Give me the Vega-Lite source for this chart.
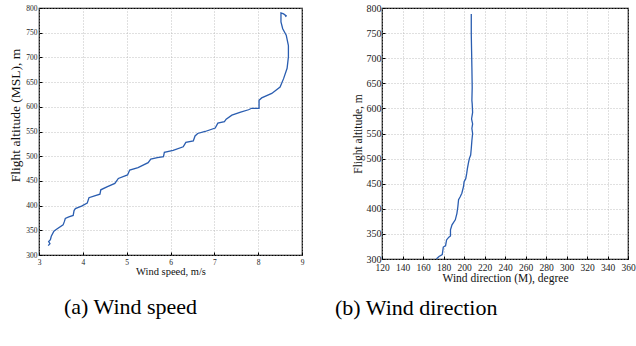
{
  "$schema": "https://vega.github.io/schema/vega-lite/v6.json",
  "background": "white",
  "padding": {"left": 8, "top": 2, "right": 1, "bottom": 0},
  "config": {
    "font": "Liberation Serif",
    "view": {"stroke": "#000", "strokeWidth": 1.2},
    "axis": {"domain": false, "grid": true, "gridDash": [1, 2], "gridColor": "#b0b0b0", "gridWidth": 0.8, "ticks": true, "tickSize": -3, "tickColor": "#000", "tickWidth": 1, "labelColor": "#222", "titleColor": "#111", "titleFontWeight": "normal", "labelFont": "Liberation Serif", "titleFont": "Liberation Serif", "labelOverlap": false, "labelFlush": false},
    "concat": {"spacing": 29}
  },
  "datasets": {
    "speed": [
      {"i": 1, "ws": 3.21, "alt": 319}, {"i": 2, "ws": 3.25, "alt": 323}, {"i": 3, "ws": 3.22, "alt": 327}, {"i": 4, "ws": 3.26, "alt": 331},
      {"i": 5, "ws": 3.28, "alt": 338}, {"i": 6, "ws": 3.34, "alt": 348}, {"i": 7, "ws": 3.40, "alt": 352}, {"i": 8, "ws": 3.55, "alt": 361},
      {"i": 9, "ws": 3.58, "alt": 368}, {"i": 10, "ws": 3.60, "alt": 374}, {"i": 11, "ws": 3.68, "alt": 377}, {"i": 12, "ws": 3.78, "alt": 380},
      {"i": 13, "ws": 3.80, "alt": 390}, {"i": 14, "ws": 3.83, "alt": 394}, {"i": 15, "ws": 3.97, "alt": 399}, {"i": 16, "ws": 4.10, "alt": 405},
      {"i": 17, "ws": 4.14, "alt": 416}, {"i": 18, "ws": 4.25, "alt": 419}, {"i": 19, "ws": 4.39, "alt": 423}, {"i": 20, "ws": 4.41, "alt": 432},
      {"i": 21, "ws": 4.55, "alt": 438}, {"i": 22, "ws": 4.73, "alt": 445}, {"i": 23, "ws": 4.81, "alt": 455}, {"i": 24, "ws": 5.02, "alt": 462},
      {"i": 25, "ws": 5.07, "alt": 472}, {"i": 26, "ws": 5.26, "alt": 477}, {"i": 27, "ws": 5.49, "alt": 487}, {"i": 28, "ws": 5.55, "alt": 494},
      {"i": 29, "ws": 5.70, "alt": 497}, {"i": 30, "ws": 5.84, "alt": 499}, {"i": 31, "ws": 5.86, "alt": 508}, {"i": 32, "ws": 6.06, "alt": 512},
      {"i": 33, "ws": 6.29, "alt": 519}, {"i": 34, "ws": 6.35, "alt": 528}, {"i": 35, "ws": 6.52, "alt": 531}, {"i": 36, "ws": 6.56, "alt": 541},
      {"i": 37, "ws": 6.62, "alt": 546}, {"i": 38, "ws": 6.79, "alt": 550}, {"i": 39, "ws": 7.02, "alt": 557}, {"i": 40, "ws": 7.08, "alt": 567},
      {"i": 41, "ws": 7.23, "alt": 570}, {"i": 42, "ws": 7.27, "alt": 575}, {"i": 43, "ws": 7.40, "alt": 583}, {"i": 44, "ws": 7.60, "alt": 589},
      {"i": 45, "ws": 7.78, "alt": 594}, {"i": 46, "ws": 7.85, "alt": 597}, {"i": 47, "ws": 8.02, "alt": 597}, {"i": 48, "ws": 8.02, "alt": 613},
      {"i": 49, "ws": 8.08, "alt": 618}, {"i": 50, "ws": 8.31, "alt": 627}, {"i": 51, "ws": 8.50, "alt": 640}, {"i": 52, "ws": 8.58, "alt": 657},
      {"i": 53, "ws": 8.66, "alt": 678}, {"i": 54, "ws": 8.69, "alt": 701}, {"i": 55, "ws": 8.69, "alt": 724}, {"i": 56, "ws": 8.64, "alt": 745},
      {"i": 57, "ws": 8.56, "alt": 758}, {"i": 58, "ws": 8.52, "alt": 772}, {"i": 59, "ws": 8.52, "alt": 790}, {"i": 60, "ws": 8.58, "alt": 788},
      {"i": 61, "ws": 8.64, "alt": 784}, {"i": 62, "ws": 8.62, "alt": 782}
    ],
    "dir": [
      {"i": 1, "wd": 173.0, "alt": 300}, {"i": 2, "wd": 175.6, "alt": 305}, {"i": 3, "wd": 178.8, "alt": 308.6}, {"i": 4, "wd": 179.8, "alt": 323.8},
      {"i": 5, "wd": 182.0, "alt": 326.4}, {"i": 6, "wd": 183.0, "alt": 338}, {"i": 7, "wd": 185.2, "alt": 343.6}, {"i": 8, "wd": 186.8, "alt": 346},
      {"i": 9, "wd": 186.8, "alt": 358}, {"i": 10, "wd": 188.3, "alt": 368}, {"i": 11, "wd": 191.5, "alt": 378}, {"i": 12, "wd": 193.1, "alt": 391},
      {"i": 13, "wd": 194.0, "alt": 404}, {"i": 14, "wd": 194.7, "alt": 418}, {"i": 15, "wd": 196.3, "alt": 424}, {"i": 16, "wd": 197.9, "alt": 431},
      {"i": 17, "wd": 199.5, "alt": 444}, {"i": 18, "wd": 200.1, "alt": 454}, {"i": 19, "wd": 201.7, "alt": 460}, {"i": 20, "wd": 202.6, "alt": 470},
      {"i": 21, "wd": 203.3, "alt": 480}, {"i": 22, "wd": 204.2, "alt": 490}, {"i": 23, "wd": 205.2, "alt": 500}, {"i": 24, "wd": 206.5, "alt": 507},
      {"i": 25, "wd": 207.1, "alt": 520}, {"i": 26, "wd": 207.7, "alt": 536}, {"i": 27, "wd": 208.4, "alt": 550}, {"i": 28, "wd": 207.7, "alt": 560},
      {"i": 29, "wd": 208.4, "alt": 569}, {"i": 30, "wd": 207.4, "alt": 579}, {"i": 31, "wd": 208.4, "alt": 592}, {"i": 32, "wd": 208.0, "alt": 609},
      {"i": 33, "wd": 207.7, "alt": 616}, {"i": 34, "wd": 208.0, "alt": 642}, {"i": 35, "wd": 207.7, "alt": 682}, {"i": 36, "wd": 207.4, "alt": 715},
      {"i": 37, "wd": 207.1, "alt": 748}, {"i": 38, "wd": 207.1, "alt": 788}
    ]
  },
  "hconcat": [
    {
      "width": 263,
      "height": 247,
      "data": {"name": "speed"},
      "mark": {"type": "line", "color": "#2a5db0", "strokeWidth": 1.3, "clip": true},
      "encoding": {
        "x": {"field": "ws", "type": "quantitative", "scale": {"domain": [3, 9], "nice": false, "zero": false},
              "axis": {"values": [3, 4, 5, 6, 7, 8, 9], "title": "Wind speed, m/s", "labelFontSize": 7.5, "titleFontSize": 10.5, "labelPadding": 6, "titlePadding": 1}},
        "y": {"field": "alt", "type": "quantitative", "scale": {"domain": [300, 800], "nice": false, "zero": false},
              "axis": {"values": [300, 350, 400, 450, 500, 550, 600, 650, 700, 750, 800], "title": "Flight altitude (MSL), m", "labelFontSize": 7.5, "titleFontSize": 13.5, "labelPadding": 5, "titlePadding": 3, "titleY": 107}},
        "order": {"field": "i", "type": "quantitative"}
      },
      "title": {"text": "(a) Wind speed", "orient": "bottom", "anchor": "start", "frame": "group", "dx": 25, "offset": 20, "fontSize": 22, "font": "Liberation Serif", "fontWeight": "normal", "color": "#000"}
    },
    {
      "width": 246,
      "height": 251,
      "data": {"name": "dir"},
      "mark": {"type": "line", "color": "#2a5db0", "strokeWidth": 1.3, "clip": true},
      "encoding": {
        "x": {"field": "wd", "type": "quantitative", "scale": {"domain": [120, 360], "nice": false, "zero": false},
              "axis": {"values": [120, 140, 160, 180, 200, 220, 240, 260, 280, 300, 320, 340, 360], "title": "Wind direction (M), degree", "labelFontSize": 9.5, "titleFontSize": 11.5, "labelPadding": 6.5, "titlePadding": 0}},
        "y": {"field": "alt", "type": "quantitative", "scale": {"domain": [300, 800], "nice": false, "zero": false},
              "axis": {"values": [300, 350, 400, 450, 500, 550, 600, 650, 700, 750, 800], "title": "Flight altitude, m", "labelFontSize": 10, "titleFontSize": 11.5, "labelPadding": 4, "titlePadding": 3}},
        "order": {"field": "i", "type": "quantitative"}
      },
      "title": {"text": "(b) Wind direction", "orient": "bottom", "anchor": "start", "frame": "group", "dx": -47, "offset": 14, "fontSize": 22, "font": "Liberation Serif", "fontWeight": "normal", "color": "#000"}
    }
  ]
}
